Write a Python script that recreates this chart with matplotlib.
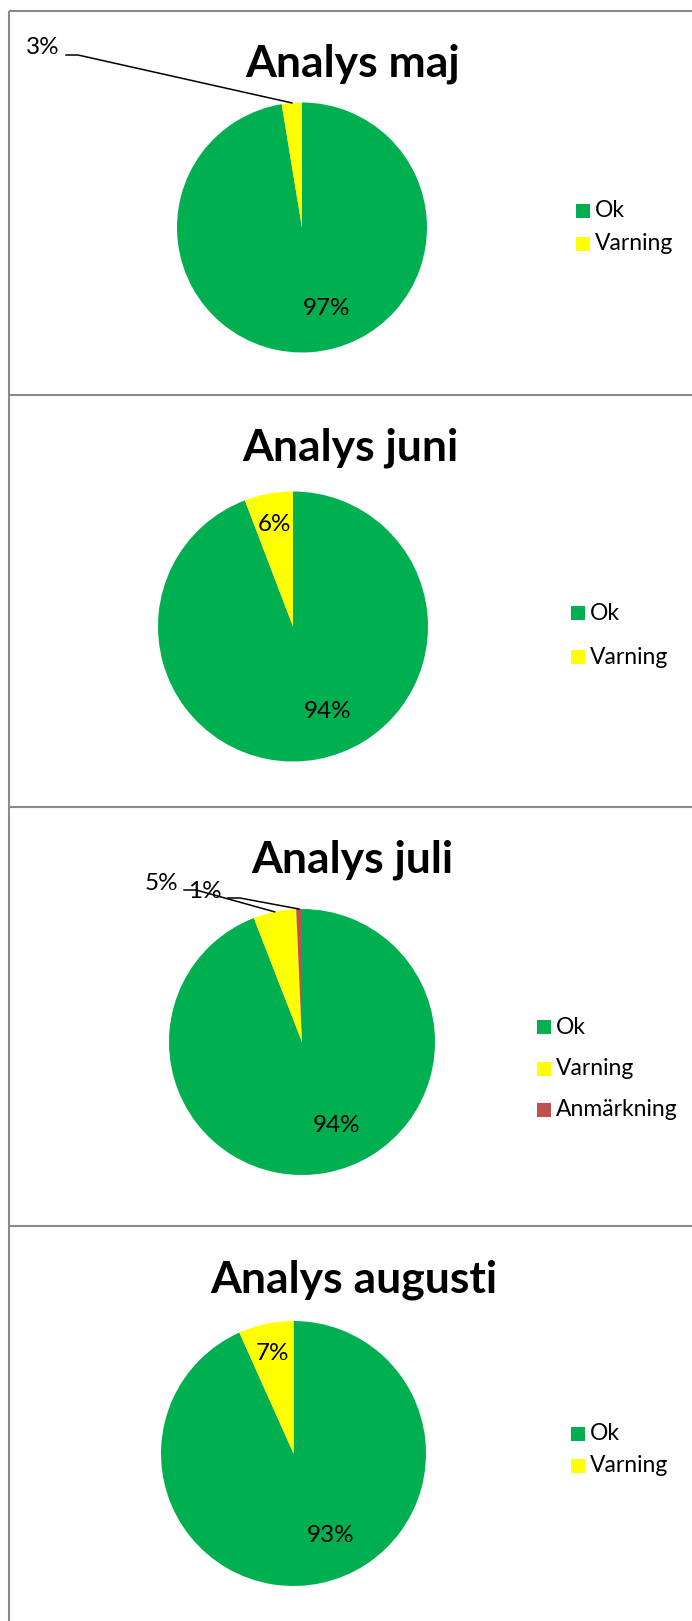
import math

import matplotlib

matplotlib.use("Agg")
import matplotlib.pyplot as plt
from matplotlib.patches import Rectangle

plt.rcParams["font.family"] = ["Lato", "DejaVu Sans"]

W, H = 692, 1621

# data
titles = ["Analys maj", "Analys juni", "Analys juli", "Analys augusti"]
categories = ["Ok", "Varning", "Anmärkning"]
colors = ["#00B050", "#FFFF00", "#C0504D"]
maj = [97.4, 2.6]
juni = [94.2, 5.8]
juli = [94.1, 5.2, 0.7]
augusti = [93.3, 6.7]

# layout in pixels: title (center x, baseline y), pie (cx, cy, r),
# legend (marker left x, first row y, row pitch), outside labels (right x, center y)
panels = [
    dict(values=maj, title=(353, 77), pie=(302, 227.5, 125),
         legend=(576, 210.5, 33), outside={1: (60, 48)}),
    dict(values=juni, title=(350, 461), pie=(293, 626.5, 135),
         legend=(571, 613, 44), outside={}),
    dict(values=juli, title=(352, 873), pie=(302, 1042, 133),
         legend=(537, 1027, 41.5), outside={1: (178, 883), 2: (222, 891)}),
    dict(values=augusti, title=(354, 1293), pie=(293.5, 1453.5, 132.5),
         legend=(571, 1434, 32), outside={}),
]
dividers = [11, 395, 807, 1226]

LABEL_FS = 17.5
LEGEND_FS = 16.5
TITLE_FS = 32

fig = plt.figure(figsize=(W / 100, H / 100), dpi=100)
fig.patch.set_facecolor("white")

# overlay axes in pixel coordinates for frame, titles, legends, leaders
ov = fig.add_axes([0, 0, 1, 1], zorder=5)
ov.set_xlim(0, W)
ov.set_ylim(H, 0)
ov.axis("off")
ov.patch.set_alpha(0)

border = "#8a8a8a"
ov.plot([9, 9], [dividers[0], H], color=border, lw=1.5, solid_capstyle="butt")
for y in dividers:
    ov.plot([9, W], [y, y], color=border, lw=1.5, solid_capstyle="butt")

for title, p in zip(titles, panels):
    vals = p["values"]
    cx, cy, r = p["pie"]
    ax = fig.add_axes([(cx - r) / W, 1 - (cy + r) / H, 2 * r / W, 2 * r / H])
    wedges, _ = ax.pie(vals, colors=colors[:len(vals)], startangle=90,
                       counterclock=False, radius=1,
                       wedgeprops=dict(linewidth=0))
    ax.set_xlim(-1, 1)
    ax.set_ylim(-1, 1)
    ax.axis("off")

    ov.text(p["title"][0], p["title"][1], title, ha="center", va="baseline",
            fontsize=TITLE_FS, fontweight="bold", color="black")

    total = sum(vals)
    for i, (w, v) in enumerate(zip(wedges, vals)):
        mid = math.radians((w.theta1 + w.theta2) / 2)
        label = f"{v / total * 100:.0f}%"
        if i in p["outside"]:
            tx, ty = p["outside"][i]
            ov.text(tx, ty, label, ha="right", va="center", fontsize=LABEL_FS,
                    color="black")
            ex = cx + r * math.cos(mid)
            ey = cy - r * math.sin(mid)
            ov.plot([tx + 6, tx + 18, ex], [ty + 7, ty + 7, ey],
                    color="black", lw=1.1)
        else:
            if v / total > 0.5:
                a, d = mid + math.radians(12), 0.68
            else:
                a, d = mid, 0.77
            ov.text(cx + d * r * math.cos(a), cy - d * r * math.sin(a), label,
                    ha="center", va="center", fontsize=LABEL_FS, color="black")

    lx, ly, pitch = p["legend"]
    for k in range(len(vals)):
        yy = ly + k * pitch
        ov.add_patch(Rectangle((lx, yy - 7), 14, 14, facecolor=colors[k],
                               edgecolor="none"))
        ov.text(lx + 19, yy, categories[k], ha="left", va="center",
                fontsize=LEGEND_FS, color="black")

fig.savefig("out.png", dpi=100, facecolor="white")
plt.close(fig)
